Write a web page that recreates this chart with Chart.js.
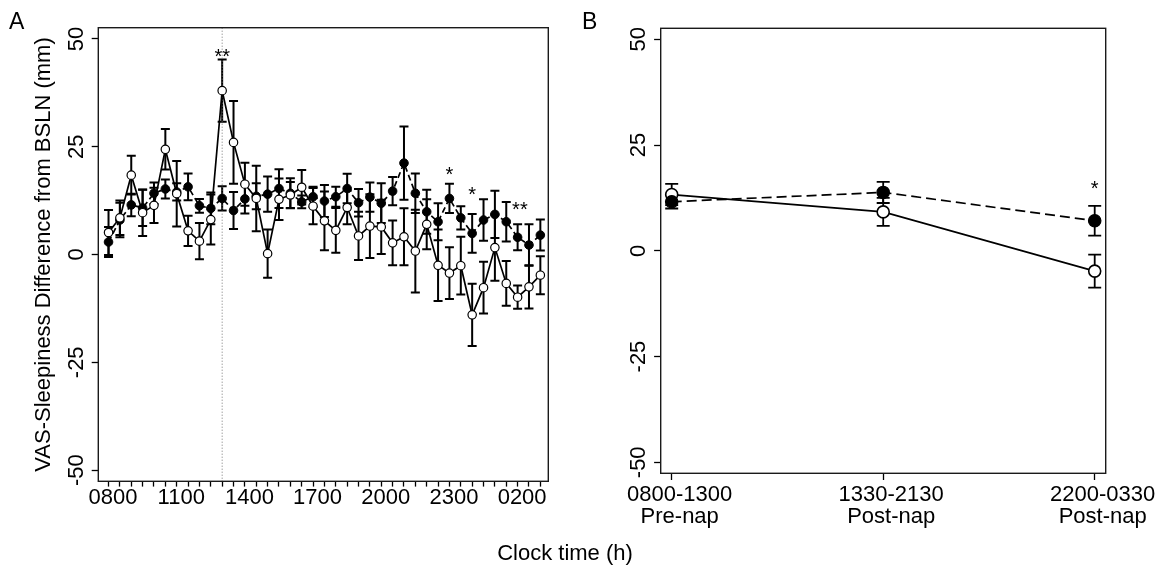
<!DOCTYPE html>
<html>
<head>
<meta charset="utf-8">
<script src="https://cdn.jsdelivr.net/npm/chart.js@4.4.1/dist/chart.umd.min.js"></script>
<style>
html,body{margin:0;padding:0;background:#fff;}
#wrap{position:relative;width:1165px;height:572px;overflow:hidden;background:#fff;}
#ca{position:absolute;left:0;top:0;}
#cb{position:absolute;left:580px;top:0;}
.lbl{position:absolute;font-family:'Liberation Sans',Arial,Helvetica,sans-serif;color:#000;white-space:nowrap;line-height:1;}
</style>
</head>
<body>
<div id="wrap">
  <canvas id="ca" width="580" height="572"></canvas>
  <canvas id="cb" width="585" height="572"></canvas>
  <div class="lbl" style="left:9px;top:10px;font-size:23px;">A</div>
  <div class="lbl" style="left:582px;top:10px;font-size:23px;">B</div>
  <div class="lbl" style="left:0;width:1130px;text-align:center;top:542px;font-size:22px;line-height:22px;">Clock time (h)</div>
</div>
<script>
// ---------------- Panel A data (half-hour clock slots) ----------------
const slotTimes = ['0800','0830','0900','0930','1000','1030','1100','1130','1200','1230',
  '1300','1330','1400','1430','1500','1530','1600','1630','1700','1730',
  '1800','1830','1900','1930','2000','2030','2100','2130','2200','2230',
  '2300','2330','0000','0030','0100','0130','0200','0230','0300'];
const napSlot = 10;

const filledMeanA = [2.9, 8.0, 11.5, 10.8, 14.2, 15.2, 14.5, 15.7, 11.3, 10.7,
  13.0, 10.2, 12.9, 13.5, 14.0, 15.3, 14.2, 12.2, 13.4, 12.4,
  13.4, 15.3, 12.0, 13.3, 11.9, 14.7, 21.2, 14.2, 9.9, 7.6,
  13.0, 8.5, 4.9, 8.0, 9.3, 7.6, 4.0, 2.2, 4.5];
const filledSemA = [3.5, 4.0, 2.6, 4.2, 2.5, 2.2, 2.0, 3.1, 1.6, 3.7,
  2.8, 4.3, 3.4, 3.0, 4.1, 4.5, 3.5, 1.5, 2.3, 3.7,
  2.3, 3.4, 3.2, 3.4, 4.6, 3.3, 8.5, 4.6, 5.1, 4.3,
  3.4, 2.7, 4.5, 4.8, 5.5, 4.6, 3.0, 4.8, 3.6];
const openMeanA = [5.1, 8.5, 18.4, 9.7, 11.4, 24.4, 14.1, 5.5, 3.1, 8.1,
  38.0, 26.0, 16.3, 13.0, 0.2, 12.8, 13.8, 15.6, 11.2, 7.8,
  5.6, 10.9, 4.3, 6.6, 6.4, 2.7, 4.1, 0.8, 7.0, -2.5,
  -4.3, -2.6, -14.0, -7.7, 1.6, -6.7, -9.9, -7.5, -4.8];
const openSemA = [5.2, 4.0, 4.5, 5.4, 4.1, 4.7, 7.6, 3.5, 4.2, 5.8,
  7.2, 9.6, 5.0, 7.6, 5.6, 4.8, 3.0, 4.0, 4.2, 6.8,
  5.2, 3.9, 5.6, 7.4, 6.3, 5.2, 6.6, 9.6, 5.8, 8.3,
  6.0, 6.7, 7.2, 6.0, 7.7, 5.2, 2.7, 5.0, 4.4];

// significance marks (slot position, level in mm, text)
const sigSlotA = [10, 30, 32, 36.2];
const sigLevelA = [47.1, 19.8, 15.0, 11.5];
const sigTextA = ['**', '*', '*', '**'];

// ---------------- Panel B data (period means) ----------------
const periodLabels = ['0800-1300', '1330-2130', '2200-0330'];
const phaseLabels = ['Pre-nap', 'Post-nap', 'Post-nap'];
const filledMeanB = [11.6, 13.8, 7.1];
const filledSemB = [1.6, 2.5, 3.5];
const openMeanB = [13.3, 9.2, -4.8];
const openSemB = [2.5, 3.3, 3.9];
const sigSlotB = [2];
const sigLevelB = [15.9];
const sigTextB = ['*'];

// ---------------- styling / helpers ----------------
const FONT = "'Liberation Sans', Arial, Helvetica, sans-serif";
Chart.defaults.font.family = FONT;
Chart.defaults.color = '#000';

const errorBars = {
  id: 'errorBars',
  beforeDatasetsDraw(chart, args, opts) {
    const ctx = chart.ctx;
    const ys = chart.scales.y;
    chart.data.datasets.forEach((ds, di) => {
      if (!ds.sem) return;
      const meta = chart.getDatasetMeta(di);
      ctx.save();
      ctx.strokeStyle = '#000';
      ctx.lineWidth = opts.width;
      ctx.setLineDash([]);
      ctx.lineCap = 'butt';
      meta.data.forEach((pt, i) => {
        const v = ds.data[i].y;
        const s = ds.sem[i];
        const x = pt.x;
        const yT = ys.getPixelForValue(v + s);
        const yB = ys.getPixelForValue(v - s);
        ctx.beginPath();
        ctx.moveTo(x, yT); ctx.lineTo(x, yB);
        ctx.moveTo(x - opts.cap, yT); ctx.lineTo(x + opts.cap, yT);
        ctx.moveTo(x - opts.cap, yB); ctx.lineTo(x + opts.cap, yB);
        ctx.stroke();
      });
      ctx.restore();
    });
  }
};

const decor = {
  id: 'decor',
  beforeDatasetsDraw(chart, args, opts) {
    if (opts.napAt === undefined) return;
    const ctx = chart.ctx, a = chart.chartArea;
    const x = chart.scales.x.getPixelForValue(opts.napAt);
    ctx.save();
    ctx.strokeStyle = '#777';
    ctx.lineWidth = 1;
    ctx.setLineDash([1, 2]);
    ctx.beginPath();
    ctx.moveTo(x, a.top); ctx.lineTo(x, a.bottom);
    ctx.stroke();
    ctx.restore();
  },
  afterDatasetsDraw(chart, args, opts) {
    const ctx = chart.ctx;
    const xs = chart.scales.x, ys = chart.scales.y;
    ctx.save();
    ctx.fillStyle = '#000';
    ctx.font = '20px ' + FONT;
    ctx.textAlign = 'center';
    ctx.textBaseline = 'alphabetic';
    (opts.sigSlots || []).forEach((s, i) => {
      const x = xs.getPixelForValue(s);
      const y = ys.getPixelForValue(opts.sigLevels[i]);
      ctx.fillText(opts.sigTexts[i], x, y + 11.5);
    });
    ctx.restore();
  },
  afterDraw(chart) {
    const ctx = chart.ctx, a = chart.chartArea;
    ctx.save();
    ctx.strokeStyle = '#1a1a1a';
    ctx.lineWidth = 1.4;
    ctx.setLineDash([]);
    ctx.strokeRect(a.left, a.top, a.right - a.left, a.bottom - a.top);
    ctx.restore();
  }
};

function yAxis(width, withTitle) {
  const ax = {
    min: -52.6, max: 52.6,
    afterFit(s) { s.width = width; },
    border: { display: false },
    grid: { drawOnChartArea: false, drawTicks: true, tickLength: 6.6, tickColor: '#000', tickWidth: 1.3 },
    ticks: {
      stepSize: 25, includeBounds: false, autoSkip: false,
      minRotation: 90, maxRotation: 90, crossAlign: 'center', padding: -1,
      color: '#000', font: { family: FONT, size: 22, lineHeight: 1 }
    }
  };
  if (withTitle) {
    ax.title = {
      display: true, text: 'VAS-Sleepiness Difference from BSLN (mm)', color: '#000',
      font: { family: FONT, size: 22, lineHeight: 1.2 }, padding: { top: 31, bottom: 0 }
    };
  }
  return ax;
}

// ---------------- Panel A chart ----------------
new Chart(document.getElementById('ca'), {
  type: 'line',
  data: {
    datasets: [
      {
        label: 'Open circles', data: openMeanA.map((y, i) => ({ x: i, y })), sem: openSemA,
        borderColor: '#000', borderWidth: 1.7, tension: 0, fill: false,
        pointRadius: 4.2, pointBorderWidth: 1.2, pointBackgroundColor: '#fff', pointBorderColor: '#000'
      },
      {
        label: 'Filled circles', data: filledMeanA.map((y, i) => ({ x: i, y })), sem: filledSemA,
        borderColor: '#000', borderWidth: 1.7, borderDash: [6, 3.5], tension: 0, fill: false,
        pointRadius: 4.3, pointBorderWidth: 1.0, pointBackgroundColor: '#000', pointBorderColor: '#000'
      }
    ]
  },
  options: {
    responsive: false, animation: false, events: [],
    layout: { padding: { left: 0, top: 27.7, right: 31.7, bottom: 0 } },
    plugins: {
      legend: { display: false }, tooltip: { enabled: false },
      errorBars: { width: 2, cap: 4.5 },
      decor: { napAt: napSlot, sigSlots: sigSlotA, sigLevels: sigLevelA, sigTexts: sigTextA }
    },
    scales: {
      x: {
        type: 'linear', min: -0.9, max: 38.7,
        afterFit(s) { s.height = 572 - 481.3; },
        border: { display: false },
        grid: { drawOnChartArea: false, drawTicks: true, tickLength: 5.3, tickColor: '#000', tickWidth: 1.3 },
        ticks: {
          stepSize: 1, includeBounds: false, autoSkip: false, maxRotation: 0, minRotation: 0,
          padding: 0.7, labelOffset: 4.5, color: '#000',
          font: { family: FONT, size: 22, lineHeight: 1 },
          callback: (v) => (v % 6 === 0 ? slotTimes[v] : '')
        }
      },
      y: yAxis(98.3, true)
    }
  },
  plugins: [errorBars, decor]
});

// ---------------- Panel B chart ----------------
new Chart(document.getElementById('cb'), {
  type: 'line',
  data: {
    datasets: [
      {
        label: 'Filled circles', data: filledMeanB.map((y, i) => ({ x: i, y })), sem: filledSemB,
        borderColor: '#000', borderWidth: 1.7, borderDash: [10, 5], tension: 0, fill: false,
        pointRadius: 6.2, pointBorderWidth: 1.2, pointBackgroundColor: '#000', pointBorderColor: '#000'
      },
      {
        label: 'Open circles', data: openMeanB.map((y, i) => ({ x: i, y })), sem: openSemB,
        borderColor: '#000', borderWidth: 1.7, tension: 0, fill: false,
        pointRadius: 6.0, pointBorderWidth: 1.6, pointBackgroundColor: '#fff', pointBorderColor: '#000'
      }
    ]
  },
  options: {
    responsive: false, animation: false, events: [],
    layout: { padding: { left: 0, top: 28.3, right: 585 - 525.7, bottom: 0 } },
    plugins: {
      legend: { display: false }, tooltip: { enabled: false },
      errorBars: { width: 1.8, cap: 6.5 },
      decor: { sigSlots: sigSlotB, sigLevels: sigLevelB, sigTexts: sigTextB }
    },
    scales: {
      x: {
        type: 'linear', min: -0.052, max: 2.052,
        afterFit(s) { s.height = 572 - 473.3; },
        border: { display: false },
        grid: { drawOnChartArea: false, drawTicks: true, tickLength: 6.7, tickColor: '#000', tickWidth: 1.3 },
        ticks: {
          stepSize: 1, includeBounds: false, autoSkip: false, maxRotation: 0, minRotation: 0,
          padding: 4.3, labelOffset: 8, color: '#000',
          font: { family: FONT, size: 22, lineHeight: 1 },
          callback: (v) => (Number.isInteger(v) && periodLabels[v] ? [periodLabels[v], phaseLabels[v]] : '')
        }
      },
      y: yAxis(80.7, false)
    }
  },
  plugins: [errorBars, decor]
});
</script>
</body>
</html>
